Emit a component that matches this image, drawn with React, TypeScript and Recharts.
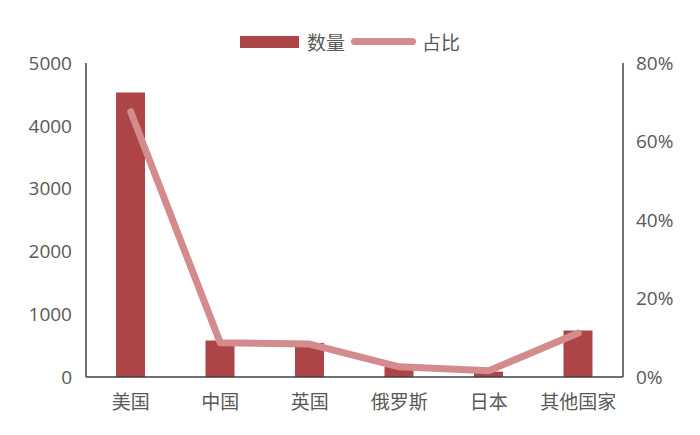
import { ComposedChart, Bar, Line, XAxis, YAxis, Legend } from 'recharts'

const countries = ['美国', '中国', '英国', '俄罗斯', '日本', '其他国家']
const counts = [4530, 580, 540, 160, 85, 740]
const shares = [67.6, 8.7, 8.4, 2.6, 1.6, 11.2]
const countTicks = [0, 1000, 2000, 3000, 4000, 5000]
const shareTicks = [0, 20, 40, 60, 80]

const data = countries.map((name, i) => ({ name, count: counts[i], share: shares[i] }))

const BAR = '#AD4446'
const LINE = '#D38B8E'
const AXIS = '#404040'
const TEXT = '#595959'
const FONT = '"Open Sans", "Noto Sans CJK SC", sans-serif'

function LegendBox() {
    return (
        <div style={{ display: 'flex', justifyContent: 'center', alignItems: 'center', fontFamily: FONT, fontSize: 19, color: TEXT, height: 27 }}>
            <span style={{ display: 'inline-block', width: 59, height: 12, background: BAR, marginRight: 8 }} />
            <span>数量</span>
            <span style={{ display: 'inline-block', width: 65, height: 7, borderRadius: 4, background: LINE, margin: '0 6px' }} />
            <span>占比</span>
        </div>
    )
}

export default function App() {
    const tick = { fontSize: 19, fill: TEXT, fontFamily: FONT }
    return (
        <div style={{ position: 'absolute', left: 0, top: 0, background: '#fff' }}>
            <ComposedChart width={700} height={435} data={data} margin={{ top: 36, right: 0, left: 0, bottom: 26 }}>
                <Legend verticalAlign="top" content={() => <LegendBox />} wrapperStyle={{ top: 28, left: 0, width: 700 }} />
                <XAxis
                    dataKey="name"
                    tick={tick}
                    tickLine={false}
                    axisLine={{ stroke: AXIS, strokeWidth: 1.5 }}
                    tickMargin={13}
                    height={32}
                />
                <YAxis
                    yAxisId="left"
                    width={86}
                    domain={[0, 5000]}
                    ticks={countTicks}
                    tick={tick}
                    tickLine={false}
                    tickMargin={8}
                    axisLine={{ stroke: AXIS, strokeWidth: 1.5 }}
                />
                <YAxis
                    yAxisId="right"
                    orientation="right"
                    width={77}
                    domain={[0, 80]}
                    ticks={shareTicks}
                    tickFormatter={(v: number) => `${v}%`}
                    tick={tick}
                    tickLine={false}
                    tickMargin={7}
                    axisLine={{ stroke: AXIS, strokeWidth: 1.5 }}
                />
                <Bar yAxisId="left" dataKey="count" fill={BAR} barSize={29} isAnimationActive={false} />
                <Line
                    yAxisId="right"
                    dataKey="share"
                    stroke={LINE}
                    strokeWidth={7}
                    strokeLinecap="round"
                    strokeLinejoin="round"
                    dot={false}
                    activeDot={false}
                    isAnimationActive={false}
                />
            </ComposedChart>
        </div>
    )
}
